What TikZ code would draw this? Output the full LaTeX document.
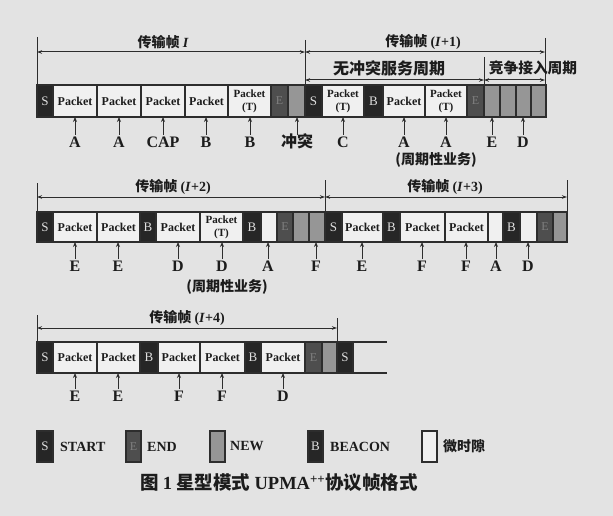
\documentclass[tikz,border=0pt]{standalone}
\usepackage{fontspec}
\setmainfont{Liberation Serif}
\newfontfamily\cjk{Noto Sans CJK SC}
\usetikzlibrary{arrows.meta}
\definecolor{bg}{RGB}{227,227,227}
\definecolor{pk}{RGB}{240,240,240}
\definecolor{dk}{RGB}{38,38,38}
\definecolor{ec}{RGB}{78,78,78}
\definecolor{nc}{RGB}{150,150,150}
\definecolor{ln}{RGB}{45,45,45}
\definecolor{tx}{RGB}{28,28,28}
\tikzset{
 seg/.style={draw=ln, line width=1.1pt, inner sep=0pt, outer sep=0pt, align=center, text=tx},
 sbox/.style={seg, fill=dk, text=white!75!gray, font=\fontsize{13}{13}\selectfont},
 bbox/.style={sbox},
 ebox/.style={seg, fill=ec, text=gray, font=\fontsize{12}{12}\selectfont},
 nbox/.style={seg, fill=nc},
 wbox/.style={seg, fill=pk},
 pbox/.style={seg, fill=pk, font=\bfseries\fontsize{12}{12}\selectfont},
 tbox/.style={seg, fill=pk, font=\bfseries\fontsize{11}{13}\selectfont},
 lbl/.style={font=\bfseries\fontsize{16}{16}\selectfont, text=tx, inner sep=1pt, anchor=north, text height=11pt, text depth=0pt},
 up/.style={draw=ln, line width=1pt, -{Stealth[length=5pt,width=4pt]}},
 dim/.style={draw=ln, line width=1pt, {Stealth[length=5pt,width=3.5pt]}-{Stealth[length=5pt,width=3.5pt]}},
 tick/.style={draw=ln, line width=1pt},
 head/.style={font=\cjk\bfseries\fontsize{14}{14}\selectfont, text=tx, inner sep=0pt},
 legtext/.style={font=\bfseries\fontsize{14}{14}\selectfont, text=tx, anchor=west, inner sep=0pt},
 captext/.style={font=\cjk\bfseries\fontsize{18.5}{19}\selectfont, text=tx, inner sep=0pt},
}
\begin{document}
\begin{tikzpicture}[x=1pt,y=-1pt]
\fill[bg] (0,0) rectangle (613,516);
\useasboundingbox (0,0) rectangle (613,516);

% ---------- Row 1 ----------
\foreach \n/\xa/\xb/\s/\t in {
 aS/37/53/sbox/S, aP1/53/97/pbox/Packet, aP2/97/141/pbox/Packet, aP3/141/185/pbox/Packet,
 aP4/185/228/pbox/Packet, aT1/228/271/tbox/{Packet\\(T)}, aE/271/288/ebox/E, aG/288/305/nbox/{},
 aS2/305/322/sbox/S, aT2/322/364/tbox/{Packet\\(T)}, aB/364/383/bbox/B, aP5/383/425/pbox/Packet,
 aT3/425/467/tbox/{Packet\\(T)}, aE2/467/484/ebox/E, aN1/484/500/nbox/{}, aN2/500/516/nbox/{},
 aN3/516/531/nbox/{}, aN4/531/546/nbox/{}}
 \node[\s, minimum width={\xb-\xa}, minimum height=32] (\n) at ({(\xa+\xb)/2},101) {\t};

\coordinate (d1L) at (37,52); \coordinate (d1M) at (305,52); \coordinate (d1R) at (545,52);
\draw[dim] (d1L) -- (d1M); \draw[dim] (d1M) -- (d1R);
\coordinate (k1) at (37,37); \coordinate (k2) at (305,40); \coordinate (k3) at (545,38);
\draw[tick] (k1) -- (k1 |- aS.north);
\draw[tick] (k2) -- (k2 |- aS.north);
\draw[tick] (k3) -- (k3 |- aS.north);
\coordinate (d2L) at (305,80); \coordinate (d2M) at (484,80); \coordinate (d2R) at (545,80);
\draw[dim] (d2L) -- (d2M); \draw[dim] (d2M) -- (d2R);
\coordinate (k4) at (484,57);
\draw[tick] (k4) -- (k4 |- aS.north);
\node[head] (h1) at (163,42) {传输帧 {\rmfamily\bfseries\itshape I}};
\node[head] (h2) at (423,42) {传输帧 {\rmfamily\bfseries(\textit{I}+1)}};
\node[head, font=\cjk\bfseries\fontsize{16}{16}\selectfont] (h3) at (389,68) {无冲突服务周期};
\node[head, font=\cjk\bfseries\fontsize{14.7}{15}\selectfont] (h4) at (533,68) {竞争接入周期};

\foreach \n/\x/\t/\g in {la1/75/A/aP1, la2/119/A/aP2, la3/163/CAP/aP3, la4/206/B/aP4, la5/250/B/aT1,
 la6/297/{\cjk 冲突}/aG, la7/343/C/aT2, la8/404/A/aP5, la9/446/A/aT3, la10/492/E/aN1, la11/523/D/aN3}
 { \node[lbl] (\n) at (\x,135) {\t}; \draw[up] (\n.north) -- (\n.north |- \g.south); }
\node[head] (per1) at (436,160) {(周期性业务)};

% ---------- Row 2 ----------
\foreach \n/\xa/\xb/\s/\t in {
 bS/37/53/sbox/S, bP1/53/97/pbox/Packet, bP2/97/140/pbox/Packet, bB1/140/156/bbox/B,
 bP3/156/200/pbox/Packet, bT/200/243/tbox/{Packet\\(T)}, bB2/243/261/bbox/B, bW1/261/277/wbox/{},
 bE/277/293/ebox/E, bG1/293/309/nbox/{}, bG2/309/325/nbox/{}, bS2/325/342/sbox/S,
 bP4/342/383/pbox/Packet, bB3/383/400/bbox/B, bP5/400/445/pbox/Packet, bP6/445/488/pbox/Packet,
 bW2/488/503/wbox/{}, bB4/503/520/bbox/B, bW3/520/537/wbox/{}, bE2/537/553/ebox/E, bG3/553/567/nbox/{}}
 \node[\s, minimum width={\xb-\xa}, minimum height=30] (\n) at ({(\xa+\xb)/2},227) {\t};

\coordinate (e1L) at (37,197); \coordinate (e1M) at (325,197); \coordinate (e1R) at (567,197);
\draw[dim] (e1L) -- (e1M); \draw[dim] (e1M) -- (e1R);
\coordinate (m1) at (37,183); \coordinate (m2) at (325,180); \coordinate (m3) at (567,180);
\draw[tick] (m1) -- (m1 |- bS.north);
\draw[tick] (m2) -- (m2 |- bS.north);
\draw[tick] (m3) -- (m3 |- bS.north);
\node[head] (h5) at (173,187) {传输帧 {\rmfamily\bfseries(\textit{I}+2)}};
\node[head] (h6) at (445,187) {传输帧 {\rmfamily\bfseries(\textit{I}+3)}};

\foreach \n/\x/\t/\g in {lb1/75/E/bP1, lb2/118/E/bP2, lb3/178/D/bP3, lb4/222/D/bT, lb5/268/A/bW1,
 lb6/316/F/bG2, lb7/362/E/bP4, lb8/422/F/bP5, lb9/466/F/bP6, lb10/496/A/bW2, lb11/528/D/bW3}
 { \node[lbl] (\n) at (\x,259) {\t}; \draw[up] (\n.north) -- (\n.north |- \g.south); }
\node[head] (per2) at (227,287) {(周期性业务)};

% ---------- Row 3 ----------
\foreach \n/\xa/\xb/\s/\t in {
 cS/37/53/sbox/S, cP1/53/97/pbox/Packet, cP2/97/140/pbox/Packet, cB1/140/158/bbox/B,
 cP3/158/200/pbox/Packet, cP4/200/245/pbox/Packet, cB2/245/261/bbox/B, cP5/261/305/pbox/Packet,
 cE/305/322/ebox/E, cG/322/337/nbox/{}, cS2/337/353/sbox/S}
 \node[\s, minimum width={\xb-\xa}, minimum height=31] (\n) at ({(\xa+\xb)/2},357.5) {\t};
\coordinate (cEnd) at (387,357.5);
\draw[tick, line width=1.1pt] (cS2.north east) -- (cEnd |- cS2.north);
\draw[tick, line width=1.1pt] (cS2.south east) -- (cEnd |- cS2.south);

\coordinate (f1L) at (37,328); \coordinate (f1R) at (337,328);
\draw[dim] (f1L) -- (f1R);
\coordinate (n1) at (37,315); \coordinate (n2) at (337,318);
\draw[tick] (n1) -- (n1 |- cS.north);
\draw[tick] (n2) -- (n2 |- cS.north);
\node[head] (h7) at (187,318) {传输帧 {\rmfamily\bfseries(\textit{I}+4)}};

\foreach \n/\x/\t/\g in {lc1/75/E/cP1, lc2/118/E/cP2, lc3/179/F/cP3, lc4/222/F/cP4, lc5/283/D/cP5}
 { \node[lbl] (\n) at (\x,389) {\t}; \draw[up] (\n.north) -- (\n.north |- \g.south); }

% ---------- Legend ----------
\node[sbox, minimum width=16, minimum height=31] (gS) at (45,446.5) {S};
\node[ebox, minimum width=15, minimum height=31] (gE) at (133.5,446.5) {E};
\node[nbox, minimum width=15, minimum height=31] (gN) at (217.5,446.5) {};
\node[bbox, minimum width=15, minimum height=31] (gB) at (315.5,446.5) {B};
\node[wbox, minimum width=15, minimum height=31] (gW) at (429.5,446.5) {};
\node[legtext] (tS) at ([xshift=7pt]gS.east) {START};
\node[legtext] (tE) at ([xshift=6pt]gE.east) {END};
\node[legtext] (tN) at ([xshift=5pt]gN.east) {NEW};
\node[legtext] (tB) at ([xshift=7pt]gB.east) {BEACON};
\node[legtext, font=\cjk\bfseries\fontsize{14}{14}\selectfont] (tW) at ([xshift=6pt]gW.east) {微时隙};

\node[captext] (caption) at (279,483) {图 {\rmfamily\bfseries 1} 星型模式 {\rmfamily\bfseries UPMA\textsuperscript{++}}协议帧格式};
\end{tikzpicture}
\end{document}
